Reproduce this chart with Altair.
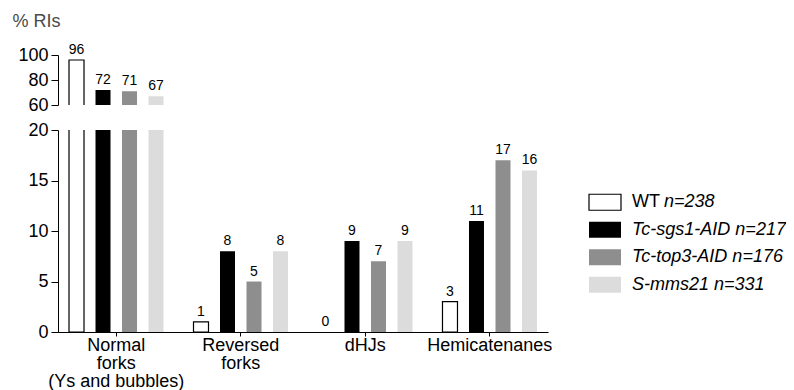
import altair as alt
import pandas as pd

categories = ["Normal|forks|(Ys and bubbles)", "Reversed|forks", "dHJs", "Hemicatenanes"]
strains = ["WT", "Tc-sgs1-AID", "Tc-top3-AID", "S-mms21"]
n_counts = [238, 217, 176, 331]
wt_vals = [96, 1, 0, 3]
sgs1_vals = [72, 8, 9, 11]
top3_vals = [71, 5, 7, 17]
mms21_vals = [67, 8, 9, 16]
colors = ["#ffffff", "#000000", "#8e8e8e", "#dcdcdc"]

rows = []
for s, vals in zip(strains, [wt_vals, sgs1_vals, top3_vals, mms21_vals]):
    for c, v in zip(categories, vals):
        rows.append({"category": c, "strain": s, "value": v, "base": 0})
df = pd.DataFrame(rows)

leg = pd.DataFrame({"strain": strains, "n": n_counts})
leg["regular"] = [s if s == "WT" else "" for s in strains]
leg["italic"] = [f"n={n}" if s == "WT" else f"{s} n={n}" for s, n in zip(strains, n_counts)]

FONT = "Liberation Sans"
W = 490

xscale = alt.Scale(paddingInner=0.2, paddingOuter=0.068)
xoff = alt.XOffset("strain:N", sort=strains,
                   scale=alt.Scale(paddingInner=0.434, paddingOuter=0.096))
color = alt.Color("strain:N", sort=strains,
                  scale=alt.Scale(domain=strains, range=colors), legend=None)
bar_stroke = alt.condition((alt.datum.strain == "WT") & (alt.datum.value > 0),
                           alt.value("black"), alt.value("transparent"))
leg_stroke = alt.condition(alt.datum.strain == "WT", alt.value("black"), alt.value("transparent"))

yaxis_common = dict(tickSize=7, labelPadding=3, labelFontSize=18, labelColor="black",
                    domainColor="black", tickColor="black", grid=False, labelFont=FONT,
                    labelOverlap=False)

# top panel (60-100)
top_yscale = alt.Scale(domain=[60, 100], zero=False, nice=False)
top_axis = alt.Axis(values=[60, 80, 100], title="% RIs", titleAngle=0,
                    titleX=-46, titleY=-29, titleAlign="left",
                    titleBaseline="alphabetic", titleFontSize=18,
                    titleFontWeight="normal", titleColor="#4a4a4a",
                    titleFont=FONT, **yaxis_common)
top_base = alt.Chart(df).encode(
    x=alt.X("category:N", sort=categories, axis=None, scale=xscale),
    xOffset=xoff,
)
top_bars = top_base.mark_bar(clip=True, strokeWidth=1.2).encode(
    y=alt.Y("value:Q", scale=top_yscale, axis=top_axis),
    y2="base:Q",
    color=color,
    stroke=bar_stroke,
)
top_text = top_base.mark_text(baseline="alphabetic", dy=-6, fontSize=14, font=FONT,
                              color="black").encode(
    y=alt.Y("value:Q", scale=top_yscale, axis=top_axis),
    text="value:Q",
).transform_filter(alt.datum.value > 20)
top = alt.layer(top_bars, top_text).properties(width=W, height=50)

# bottom panel (0-20)
bot_yscale = alt.Scale(domain=[0, 20], nice=False)
bot_axis = alt.Axis(values=[0, 5, 10, 15, 20], title=None, **yaxis_common)
bot_base = alt.Chart(df).encode(
    x=alt.X("category:N", sort=categories, scale=xscale,
            axis=alt.Axis(title=None, labelAngle=0, labelExpr="split(datum.label, '|')",
                          labelFontSize=18, labelLineHeight=18, labelColor="black",
                          labelFont=FONT, tickSize=4, labelPadding=0,
                          domainColor="black", tickColor="black", grid=False)),
    xOffset=xoff,
)
bot_bars = bot_base.mark_bar(clip=True, strokeWidth=1.2).encode(
    y=alt.Y("value:Q", scale=bot_yscale, axis=bot_axis),
    y2="base:Q",
    color=color,
    stroke=bar_stroke,
)
bot_text = bot_base.mark_text(baseline="alphabetic", dy=-6, fontSize=14, font=FONT,
                              color="black").encode(
    y=alt.Y("value:Q", scale=bot_yscale, axis=bot_axis),
    text="value:Q",
).transform_filter(alt.datum.value <= 20)
bottom = alt.layer(bot_bars, bot_text).properties(width=W, height=202)

main = alt.vconcat(top, bottom, spacing=25, bounds="flush").resolve_scale(y="independent")

# custom legend
ly = alt.Y("strain:N", sort=strains, axis=None,
           scale=alt.Scale(type="band", paddingInner=0, paddingOuter=0, range=[133.5, 243.5]))
lbase = alt.Chart(leg).encode(y=ly)
swatch = lbase.mark_point(shape="M-1,-0.5H1V0.5H-1Z", size=1024, filled=True,
                          strokeWidth=1.2, opacity=1).encode(
    x=alt.value(16), color=color, stroke=leg_stroke)
reg_text = lbase.mark_text(align="left", baseline="middle", fontSize=18, font=FONT,
                           color="black").encode(x=alt.value(43), text="regular:N")
ital_wt = lbase.mark_text(align="left", baseline="middle", fontSize=18, font=FONT,
                          fontStyle="italic", color="black", dx=32).encode(
    x=alt.value(43), text="italic:N").transform_filter(alt.datum.strain == "WT")
ital_other = lbase.mark_text(align="left", baseline="middle", fontSize=18, font=FONT,
                             fontStyle="italic", color="black").encode(
    x=alt.value(43), text="italic:N").transform_filter(alt.datum.strain != "WT")
legend = alt.layer(swatch, reg_text, ital_wt, ital_other).properties(width=190, height=277)

chart = alt.hconcat(main, legend, spacing=34).properties(
    padding={"left": 4, "top": 4, "right": 0, "bottom": 0}
).configure(font=FONT).configure_view(strokeWidth=0, stroke="transparent").configure_axis(grid=False)

chart.save("out.html", embed_options={"renderer": "svg", "actions": False})
